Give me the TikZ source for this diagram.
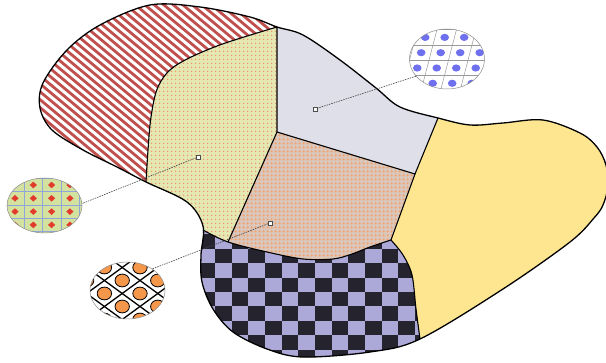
\documentclass[tikz,border=0pt]{standalone}
\usepackage{tikz}
\usetikzlibrary{patterns.meta,shapes.geometric}
\definecolor{StripeRed}{HTML}{C0504D}
\definecolor{SageGreen}{HTML}{E4E9B4}
\definecolor{SageDot}{HTML}{EE9A70}
\definecolor{MistGray}{HTML}{DFDFE9}
\definecolor{PeachBase}{HTML}{DAC6BB}
\definecolor{PeachDot}{HTML}{F4A066}
\definecolor{ButterYellow}{HTML}{FEE691}
\definecolor{CheckLilac}{HTML}{ACA9D8}
\definecolor{CheckInk}{HTML}{25242E}
\definecolor{LensBlue}{HTML}{6F70EE}
\definecolor{LensGreen}{HTML}{D4E2A0}
\definecolor{LensGrid}{HTML}{8FA5DC}
\definecolor{LensRed}{HTML}{E23B2B}
\definecolor{LensOrange}{HTML}{F5974A}

\newcommand{\blobpath}{plot[smooth cycle,tension=.55] coordinates {(203,226) (187,202) (146,182) (117,167) (83,150) (52,130) (40,108) (43,83) (67,50) (100,25) (150,5) (200,7) (250,17) (277,27) (303,35) (340,60) (376,88) (400,107) (438,118) (470,125) (503,123) (543,120) (580,133) (597,147) (606,165) (608,186) (603,205) (594,218) (570,242) (503,289) (420,339) (370,352) (303,357) (267,349) (233,332) (213,309) (202,282) (201,255)}}

\tikzset{
  border/.style={line width=1.3pt, line join=round},
  seam/.style={line width=1.1pt, line join=round},
  leader/.style={draw=black!75, line width=.6pt, dash pattern=on 1.5pt off 1pt},
  tipbox/.style={draw=black!70, fill=white, line width=.4pt, minimum size=3.6pt, inner sep=0pt},
  lens/.style={ellipse, draw=black!45, line width=.5pt, minimum width=75pt, minimum height=#1, inner sep=0pt},
  lensline/.style={draw=black!40, line width=.5pt},
}

\begin{document}
\begin{tikzpicture}[x=1pt,y=-1pt]
\useasboundingbox (0,0) rectangle (606,363);
\coordinate (T1) at (277,27);
\coordinate (J1) at (277,132);
\coordinate (J2) at (415,174);
\coordinate (J3) at (391,240);
\coordinate (J4) at (228,242);
\coordinate (S1) at (146,182);
\coordinate (C1) at (203,230);
\coordinate (Y1) at (438,118);
\coordinate (Y2) at (420,339);

% the regions, cut to the outline
\begin{scope}
  \clip \blobpath;
  \fill[SageGreen] (0,0) rectangle (620,363);
  \fill[pattern={Dots[radius=1pt,distance=4pt]}, pattern color=SageDot] (0,0) rectangle (620,363);
  % stripes
  \begin{scope}
    \clip plot[smooth,tension=.55] coordinates {(T1) (217,46) (175,66) (158,87) (151,117) (148,150) (S1)}
      -- (0,190) -- (0,0) -- (277,0) -- cycle;
    \fill[white] (0,0) rectangle (280,200);
    \foreach \s in {-260,-250.5,...,290}
      \draw[StripeRed, line width=2.8pt] (\s,0) -- ++(240,200);
  \end{scope}
  % yellow
  \fill[ButterYellow] (Y1) -- (438,0) -- (620,0) -- (620,363) -- (425,363) -- (Y2) -- (380,300) -- (J3) -- (J2) -- cycle;
  % gray
  \fill[MistGray] (T1) -- (J1) -- (J2) -- (Y1) -- (438,0) -- (277,0) -- cycle;
  % peach
  \fill[PeachBase] (J1) -- (J2) -- (J3) -- (330,300) -- (J4) -- cycle;
  \fill[pattern={Dots[radius=1.4pt,distance=4pt]}, pattern color=PeachDot] (J1) -- (J2) -- (J3) -- (330,300) -- (J4) -- cycle;
  % checker
  \begin{scope}
    \clip (190,232) -- plot[smooth,tension=.55] coordinates {(C1) (J4) (267,252) (303,259) (333,259) (352,254) (370,247) (J3)}
      -- plot[smooth,tension=.55] coordinates {(J3) (403,255) (412,275) (416,309) (Y2)}
      -- (425,363) -- (190,363) -- cycle;
    \fill[CheckLilac] (190,220) rectangle (430,363);
    \foreach \c in {-1,...,13}
      \foreach \r in {-2,...,8} {
        \pgfmathtruncatemacro{\cellsum}{\c+\r+20}
        \ifodd\cellsum\else
          \fill[CheckInk] ({215+16.67*\c},{248.7+14.45*\r}) rectangle ++(16.67,14.45);
        \fi
      }
  \end{scope}
\end{scope}

% outline and seams
\draw[border] \blobpath;
\draw[seam] plot[smooth,tension=.55] coordinates {(T1) (217,46) (175,66) (158,87) (151,117) (148,150) (S1)};
\draw[seam] (T1) -- (J1) -- (J2) -- (Y1);
\draw[seam] (J1) -- (J4);
\draw[seam] (J2) -- (J3);
\draw[seam] plot[smooth,tension=.55] coordinates {(C1) (J4) (267,252) (303,259) (333,259) (352,254) (370,247) (J3)};
\draw[seam] plot[smooth,tension=.55] coordinates {(J3) (403,255) (412,275) (416,309) (Y2)};

% blue lens
\begin{scope}
  \clip (447,59) ellipse [x radius=37.5pt, y radius=30pt];
  \begin{scope}[shift={(440.7,52.7)}, x={(19.5pt,0pt)}, y={(-4pt,-15.3pt)}]
    \foreach \k in {-4,...,4} {
      \draw[lensline] (\k+.5,-4) -- (\k+.5,4);
      \draw[lensline] (-4,\k+.5) -- (4,\k+.5);
    }
    \foreach \i in {-3,...,3}
      \foreach \j in {-3,...,3}
        \fill[LensBlue] (\i,\j) ellipse [x radius=4.3pt, y radius=3.6pt];
  \end{scope}
\end{scope}

% green lens
\begin{scope}
  \clip (44.5,205.5) ellipse [x radius=37.5pt, y radius=27.5pt];
  \fill[LensGreen] (0,170) rectangle (90,240);
  \begin{scope}[shift={(33.3,198.3)}, x={(18.3pt,0pt)}, y={(0pt,-13.3pt)}]
    \foreach \k in {-4,...,4} {
      \draw[draw=LensGrid, line width=.5pt] (\k+.5,-4) -- (\k+.5,4);
      \draw[draw=LensGrid, line width=.5pt] (-4,\k+.5) -- (4,\k+.5);
    }
    \foreach \i in {-3,...,3}
      \foreach \j in {-3,...,3}
        \fill[LensRed] (\i,\j) +(-3.6pt,0pt) -- +(0pt,-3.3pt) -- +(3.6pt,0pt) -- +(0pt,3.3pt) -- cycle;
  \end{scope}
\end{scope}

% orange lens
\begin{scope}
  \clip (127.5,290.5) ellipse [x radius=37.5pt, y radius=28.5pt];
  \fill[white] (85,255) rectangle (170,325);
  \begin{scope}[shift={(140,293.5)}, x={(17.8pt,0pt)}, y={(0pt,-13pt)}]
    \foreach \k in {-9,-7,...,9} {
      \draw[line width=1.3pt] (\k-6,-6) -- (\k+6,6);
      \draw[line width=1.3pt] (\k+6,-6) -- (\k-6,6);
    }
    \foreach \i in {-5,...,3}
      \foreach \j in {-3,...,3} {
        \pgfmathtruncatemacro{\spot}{\i+\j+20}
        \ifodd\spot\else
          \filldraw[fill=LensOrange, draw=black, line width=.8pt] (\i,\j) ellipse [x radius=7.2pt, y radius=6.4pt];
        \fi
      }
  \end{scope}
\end{scope}

\node[lens=60pt] (blueLens) at (447,59) {};
\node[lens=55pt] (greenLens) at (44.5,205.5) {};
\node[lens=57pt] (orangeLens) at (127.5,290.5) {};
\node[tipbox] (blueTip) at (315,109) {};
\node[tipbox] (greenTip) at (198,157) {};
\node[tipbox] (orangeTip) at (270,223) {};
\draw[leader] (blueTip) -- (blueLens.209);
\draw[leader] (greenTip) -- (greenLens.3);
\draw[leader] (orangeTip) -- (orangeLens.41);
\end{tikzpicture}
\end{document}
